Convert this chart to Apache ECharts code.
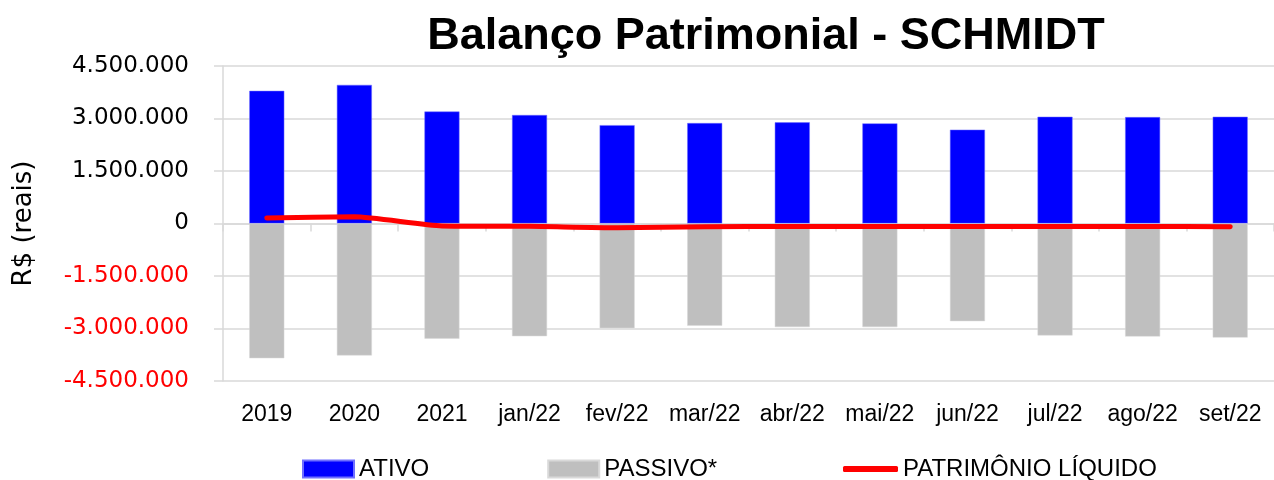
<!DOCTYPE html>
<html lang="pt-BR">
<head>
    <meta charset="UTF-8">
    <title>Balanço Patrimonial - SCHMIDT</title>
    <script src="https://cdn.jsdelivr.net/npm/echarts@6/dist/echarts.min.js"></script>
    <style>
        html, body { margin: 0; padding: 0; background: #fff; }
        #chart { width: 1274px; height: 480px; }
    </style>
</head>
<body>
<div id="chart"></div>
<script type="text/javascript">
    // dados
    var categorias = ['2019', '2020', '2021', 'jan/22', 'fev/22', 'mar/22', 'abr/22', 'mai/22', 'jun/22', 'jul/22', 'ago/22', 'set/22'];
    var ativo = [3790000, 3960000, 3200000, 3100000, 2810000, 2870000, 2890000, 2860000, 2680000, 3050000, 3040000, 3050000];
    var passivo = [-3850000, -3770000, -3290000, -3220000, -2990000, -2920000, -2960000, -2960000, -2790000, -3200000, -3230000, -3260000];
    var patrimonio = [160000, 190000, -70000, -80000, -120000, -95000, -85000, -85000, -85000, -85000, -85000, -90000];
    var yTicks = { min: -4500000, max: 4500000, step: 1500000 };

    function fmt(v) {
        var s = Math.abs(v).toString().replace(/\B(?=(\d{3})+(?!\d))/g, '.');
        return (v < 0 ? '-' : '') + s;
    }

    var gridColor = '#d9d9d9';
    var chart = echarts.init(document.getElementById('chart'));
    chart.setOption({
        animation: false,
        title: {
            text: 'Balanço Patrimonial - SCHMIDT',
            left: 761, textAlign: 'center', top: 9,
            textStyle: { fontFamily: 'Liberation Sans', fontWeight: 'bold', fontSize: 45, color: '#000' }
        },
        legend: [
            {
                data: ['ATIVO', 'PASSIVO*'], left: 297, top: 452,
                itemWidth: 51, itemHeight: 17, itemGap: 118, icon: 'rect',
                textStyle: { fontFamily: 'Liberation Sans', fontSize: 24, color: '#000' }
            },
            {
                data: ['PATRIMÔNIO LÍQUIDO'], left: 838, top: 452,
                itemWidth: 55, itemHeight: 6, icon: 'roundRect',
                textStyle: { fontFamily: 'Liberation Sans', fontSize: 24, color: '#000' }
            }
        ],
        grid: { left: 223, top: 66, width: 1060, bottom: 99 },
        xAxis: [
            {
                type: 'category', data: categorias, position: 'bottom',
                axisLine: { onZero: false, show: false },
                axisTick: { show: false },
                axisLabel: { margin: 22, fontFamily: 'Liberation Sans', fontSize: 23, color: '#000', interval: 0 }
            },
            {
                type: 'category', data: categorias, position: 'bottom',
                axisLine: { onZero: true, lineStyle: { color: gridColor, width: 1.5 } },
                axisTick: { show: true, length: 8, lineStyle: { color: gridColor, width: 1.5 } },
                axisLabel: { show: false }
            }
        ],
        yAxis: {
            type: 'value', min: yTicks.min, max: yTicks.max, interval: yTicks.step,
            name: 'R$ (reais)', nameLocation: 'middle', nameGap: 186, nameRotate: 90,
            nameTextStyle: { fontFamily: 'DejaVu Sans', fontSize: 26, color: '#000' },
            axisLine: { show: true, lineStyle: { color: gridColor, width: 1.5 } },
            axisTick: { show: true, length: 9, lineStyle: { color: gridColor, width: 1.5 } },
            splitLine: { lineStyle: { color: gridColor, width: 1.5 } },
            axisLabel: {
                margin: 34, fontFamily: 'DejaVu Sans', fontSize: 23,
                formatter: fmt,
                color: function (v) { return v < 0 ? '#ff0000' : '#000'; }
            }
        },
        series: [
            {
                name: 'ATIVO', type: 'bar', data: ativo, barWidth: 35, barGap: '-100%',
                itemStyle: { color: '#0000ff', borderColor: '#6f6fff', borderWidth: 0.5 }
            },
            {
                name: 'PASSIVO*', type: 'bar', data: passivo, barWidth: 35,
                itemStyle: { color: '#bfbfbf', borderColor: '#d9d9d9', borderWidth: 0.5 }
            },
            {
                name: 'PATRIMÔNIO LÍQUIDO', type: 'line', data: patrimonio, smooth: 0.2,
                symbol: 'none', z: 5,
                itemStyle: { color: '#ff0000' },
                lineStyle: { color: '#ff0000', width: 5, cap: 'round' }
            }
        ]
    });
</script>
</body>
</html>
